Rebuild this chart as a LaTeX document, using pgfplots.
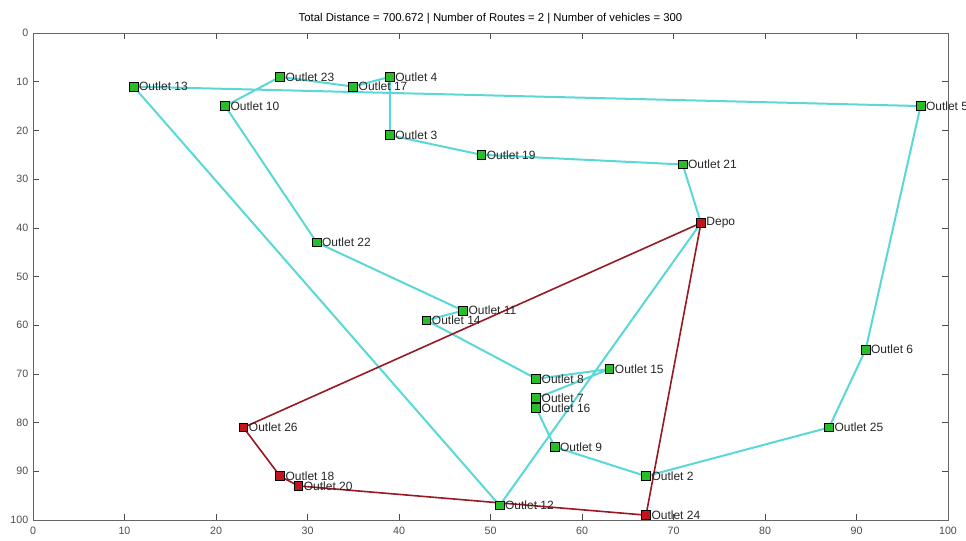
\documentclass[border=0pt]{standalone}
\usepackage{fontspec}
\setmainfont{Liberation Sans}
\usepackage{pgfplots}
\pgfplotsset{compat=1.18}
\definecolor{routec}{RGB}{90,215,215}
\definecolor{router}{RGB}{150,25,35}
\definecolor{nodeg}{RGB}{40,190,40}
\definecolor{noder}{RGB}{195,20,30}
\begin{document}
\begin{tikzpicture}
\useasboundingbox (0,0) rectangle (724.5pt,405pt);
\begin{axis}[
 at={(24.75pt,15pt)}, anchor=south west,
 scale only axis, width=686.25pt, height=365.25pt,
 xmin=0,xmax=100,ymin=0,ymax=100, y dir=reverse,
 xtick={0,10,...,100}, ytick={0,10,...,100},
 tick align=inside, major tick length=4.5pt,
 axis line style={black!60}, every tick/.style={black!70},
 tick label style={font=\fontsize{8}{9}\selectfont, text=black!70},
 xticklabel style={yshift=-1.5pt},
 /pgf/number format/assume math mode=true,
 title={Total Distance = 700.672 \textbar{} Number of Routes = 2 \textbar{} Number of vehicles = 300},
 title style={at={(0.5,1)},anchor=base,yshift=3pt,font=\fontsize{8.5}{10}\selectfont},
 clip=false,
]
% cyan route
\addplot[routec, line width=1.5pt] coordinates {
(73,39) (71,27) (49,25) (39,21) (39,9) (35,11) (27,9) (21,15) (31,43) (47,57) (43,59) (55,71) (63,69) (55,75) (55,77) (57,85) (67,91) (87,81) (91,65) (97,15) (11,11) (51,97) (73,39)
};
% red route
\addplot[router, line width=1.2pt] coordinates {
(73,39) (23,81) (27,91) (29,93) (67,99) (73,39)
};
% green nodes
\addplot[only marks, mark=square*, mark size=3.3pt,
 mark options={fill=nodeg, draw=black, line width=0.6pt},
 point meta=explicit symbolic, nodes near coords, nodes near coords align={anchor=west},
 every node near coord/.append style={anchor=west, font=\fontsize{9}{10}\selectfont, xshift=3.3pt, inner sep=0.5pt, text=black!85}]
coordinates {
(71,27) [Outlet 21]
(49,25) [Outlet 19]
(39,21) [Outlet 3]
(39,9) [Outlet 4]
(35,11) [Outlet 17]
(27,9) [Outlet 23]
(21,15) [Outlet 10]
(31,43) [Outlet 22]
(47,57) [Outlet 11]
(43,59) [Outlet 14]
(55,71) [Outlet 8]
(63,69) [Outlet 15]
(55,75) [Outlet 7]
(55,77) [Outlet 16]
(57,85) [Outlet 9]
(67,91) [Outlet 2]
(87,81) [Outlet 25]
(91,65) [Outlet 6]
(97,15) [Outlet 5]
(11,11) [Outlet 13]
(51,97) [Outlet 12]
};
% red nodes
\addplot[only marks, mark=square*, mark size=3.3pt,
 mark options={fill=noder, draw=black, line width=0.6pt},
 point meta=explicit symbolic, nodes near coords, nodes near coords align={anchor=west},
 every node near coord/.append style={anchor=west, font=\fontsize{9}{10}\selectfont, xshift=3.3pt, inner sep=0.5pt, text=black!85}]
coordinates {
(73,39) [Depo]
(23,81) [Outlet 26]
(27,91) [Outlet 18]
(29,93) [Outlet 20]
(67,99) [Outlet 24]
};
\end{axis}
\end{tikzpicture}
\end{document}
